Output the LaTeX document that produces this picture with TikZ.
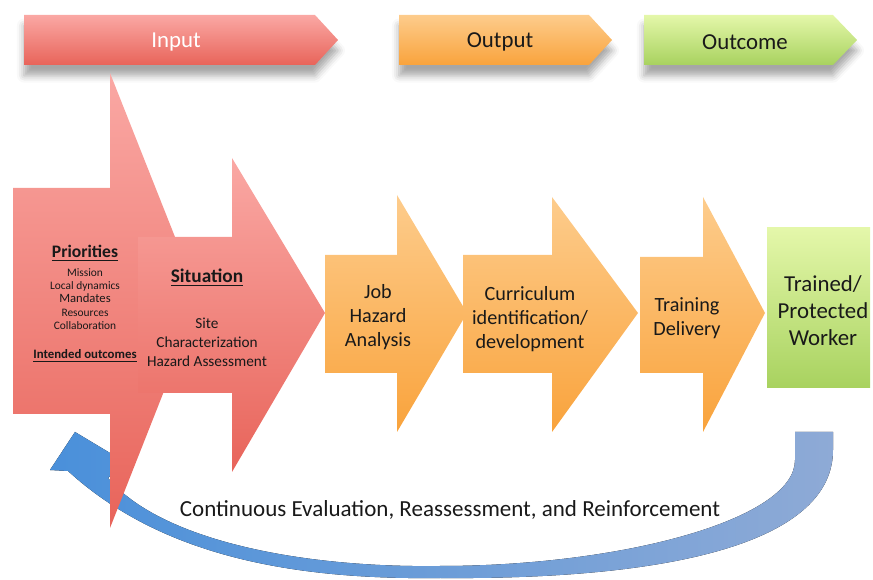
\documentclass[tikz,border=0pt]{standalone}
\usepackage{fontspec}
\setmainfont{Carlito}
\usetikzlibrary{calc,shadows.blur}
\definecolor{redtop}{RGB}{250,168,164}
\definecolor{redbot}{RGB}{232,100,90}
\definecolor{orgtop}{RGB}{253,204,140}
\definecolor{orgbot}{RGB}{249,163,60}
\definecolor{grntop}{RGB}{228,247,170}
\definecolor{grnbot}{RGB}{168,210,95}
\definecolor{blueleft}{RGB}{74,144,218}
\definecolor{blueright}{RGB}{142,170,214}
\tikzset{
  inshape/.style={top color=redtop, bottom color=redbot},
  outshape/.style={top color=orgtop, bottom color=orgbot},
  endshape/.style={top color=grntop, bottom color=grnbot},
  banner/.style={blur shadow={shadow xshift=0pt, shadow yshift=-6pt,
      shadow blur radius=4pt, shadow opacity=35}},
  label txt/.style={align=center, inner sep=0pt, text=black!90},
}
\newcommand*\bigtxt{\fontsize{11.5}{13.8}\selectfont}

\begin{document}
\begin{tikzpicture}[x=0.02cm, y=-0.02cm]
        \useasboundingbox (0,0) rectangle (873,580);
        \pgfmathsetmacro{\bt}{15}
        \pgfmathsetmacro{\bb}{65}
        \pgfmathsetmacro{\bm}{40}
        %
        % banners
        \path[inshape, banner] (24,\bt) -- (315,\bt) -- (338,\bm) -- (315,\bb) -- (24,\bb) -- cycle;
        \path[outshape, banner] (399,\bt) -- (589,\bt) -- (612,\bm) -- (589,\bb) -- (399,\bb) -- cycle;
        \path[endshape, banner] (644,\bt) -- (833,\bt) -- (857,\bm) -- (833,\bb) -- (644,\bb) -- cycle;
        \node[label txt, text=white, font=\fontsize{13}{15}\selectfont] (input) at (176,42) {Input};
        \node[label txt, font=\fontsize{13}{15}\selectfont] (output) at (500,42) {Output};
        \node[label txt, font=\fontsize{13}{15}\selectfont] (outcome) at (745,42) {Outcome};
        %
        % feedback loop
        \fill[left color=blueleft, right color=blueright]
            (833,432) -- (833,450) .. controls (833,540) and (680,580) .. (440,578)
            .. controls (290,580) and (160,555) .. (68,471)
            -- (50,470) -- (75,432) -- (125,462) -- (108,478)
            .. controls (160,540) and (300,568) .. (440,566)
            .. controls (620,566) and (795,520) .. (795,460) -- (795,432) -- cycle;
        %
        % input arrows
        \path[inshape] (13,188) -- (110,188) -- (110,73) -- (200,300) -- (110,528) -- (110,414) -- (13,414) -- cycle;
        \path[inshape] (138,237) -- (232,237) -- (232,158) -- (325,313) -- (232,472) -- (232,393) -- (138,393) -- cycle;
        %
        % output arrows
        \path[outshape] (325,255) -- (397,255) -- (397,195) -- (467,313) -- (397,432) -- (397,373) -- (325,373) -- cycle;
        \path[outshape] (463,255) -- (552,255) -- (552,197) -- (638,313) -- (552,432) -- (552,373) -- (463,373) -- cycle;
        \path[outshape] (640,257) -- (703,257) -- (703,197) -- (765,313) -- (703,432) -- (703,373) -- (640,373) -- cycle;
        %
        % outcome box
        \path[endshape] (767,228) rectangle (870,388);
        %
        \node[label txt, font=\bfseries\fontsize{10}{12}\selectfont] (prio) at (85,253) {\underline{Priorities}};
        \node[label txt, font=\fontsize{6.5}{7.6}\selectfont] (priolist) at (85,299)
            {Mission\\Local dynamics\\{\fontsize{7.2}{8}\selectfont Mandates}\\Resources\\Collaboration};
        \node[label txt, font=\bfseries\fontsize{7.3}{9}\selectfont] (intended) at (85,356) {\underline{Intended outcomes}};
        \node[label txt, font=\bfseries\fontsize{11}{13}\selectfont] (situ) at (207,278) {\underline{Situation}};
        \node[label txt, font=\fontsize{8.7}{10.8}\selectfont] (site) at (207,342) {Site\\Characterization\\Hazard Assessment};
        \node[label txt, font=\bigtxt] (jha) at (378,317) {Job\\Hazard\\Analysis};
        \node[label txt, font=\bigtxt] (curr) at (530,319) {Curriculum\\identification/\\development};
        \node[label txt, font=\bigtxt] (deliv) at (687,318) {Training\\Delivery};
        \node[label txt, font=\fontsize{13}{15.3}\selectfont] (worker) at (823,311) {Trained/\\Protected\\Worker};
        \node[label txt, font=\fontsize{13.1}{15}\selectfont] (loop) at (450,510) {Continuous Evaluation, Reassessment, and Reinforcement};
\end{tikzpicture}
\end{document}
